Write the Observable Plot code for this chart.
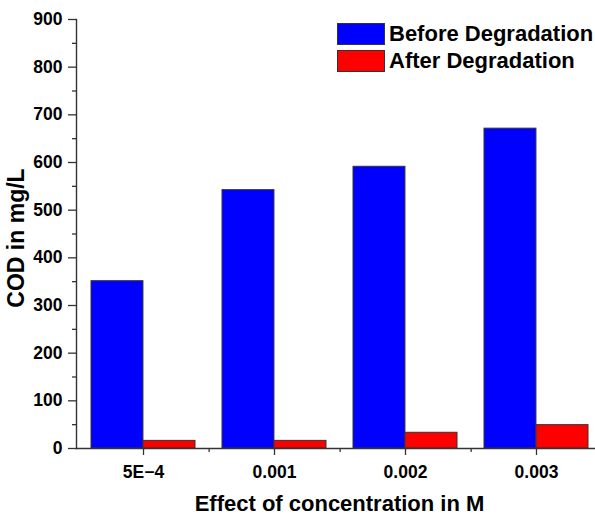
<!DOCTYPE html>
<html>
<head>
<meta charset="utf-8">
<script src="https://cdn.jsdelivr.net/npm/d3@7"></script>
<script src="https://cdn.jsdelivr.net/npm/@observablehq/plot@0.6"></script>
<style>
  html, body { margin: 0; padding: 0; background: #fff; overflow: hidden; }
  #chart { position: relative; width: 595px; height: 516px; font-family: "Liberation Sans", Arial, sans-serif; }
  .legend { position: absolute; left: 337px; top: 23px; }
  .legend .row { display: flex; align-items: center; height: 22px; margin-bottom: 5px; }
  .legend .sw { width: 46px; height: 20px; border: 1px solid #333; margin-right: 4px; }
  .legend .lab { font-weight: bold; font-size: 22px; color: #000; white-space: nowrap; line-height: 22px; }
</style>
</head>
<body>
<div id="chart"></div>
<script>
// COD before and after degradation at each concentration (mol/L)
const concentrations = ["5E\u22124", "0.001", "0.002", "0.003"];
const seriesNames = ["Before Degradation", "After Degradation"];
const seriesColors = ["#0000ff", "#ff0000"];
const beforeCOD = [351, 542, 591, 671];
const afterCOD = [16, 16, 33, 49];
const yTicks = [0, 100, 200, 300, 400, 500, 600, 700, 800, 900];
const yMinorTicks = [50, 150, 250, 350, 450, 550, 650, 750, 850];

const data = concentrations.flatMap((conc, i) => [
  {conc, series: seriesNames[0], cod: beforeCOD[i]},
  {conc, series: seriesNames[1], cod: afterCOD[i]}
]);

const width = 595, height = 516;
const marginLeft = 76, marginRight = -7, marginTop = 19, marginBottom = 68;
const paddingInner = 0.207, paddingOuter = 0.107;

// same band layout as the plot's x scale, used for bar halves and minor ticks
const xBand = d3.scaleBand(concentrations, [marginLeft, width - marginRight])
  .paddingInner(paddingInner).paddingOuter(paddingOuter);
const half = xBand.bandwidth() / 2;
const step = xBand.step();

const axisColor = "#333";
const font = {fontWeight: "bold", fill: "#000"};

const chart = Plot.plot({
  width, height, marginLeft, marginRight, marginTop, marginBottom,
  style: {fontFamily: "'Liberation Sans', Arial, sans-serif", background: "#fff", overflow: "hidden"},
  x: {type: "band", domain: concentrations, paddingInner, paddingOuter},
  y: {domain: [0, 900]},
  color: {domain: seriesNames, range: seriesColors},
  marks: [
    Plot.barY(data, {filter: d => d.series === seriesNames[0], x: "conc", y: "cod", fill: "series",
      stroke: axisColor, strokeWidth: 1, insetRight: half}),
    Plot.barY(data, {filter: d => d.series === seriesNames[1], x: "conc", y: "cod", fill: "series",
      stroke: axisColor, strokeWidth: 1, insetLeft: half}),
    Plot.ruleY([0], {stroke: axisColor, strokeWidth: 1.4}),
    Plot.frame({anchor: "left", stroke: axisColor, strokeWidth: 1.4}),
    Plot.axisY(yTicks, {tickSize: 8, tickPadding: 6, fontSize: 17.5, ...font,
      stroke: axisColor, strokeWidth: 1.3, label: null}),
    Plot.axisY(yMinorTicks, {tickSize: 4, fill: "none", stroke: axisColor, strokeWidth: 1.3, label: null}),
    Plot.axisX({tickSize: 7, tickPadding: 10, fontSize: 17.5, ...font,
      stroke: axisColor, strokeWidth: 1.3, label: null}),
    Plot.axisX({tickSize: 4, dx: step / 2, fill: "none", stroke: axisColor, strokeWidth: 1.3, label: null}),
    Plot.text(["COD in mg/L"], {text: d => d, frameAnchor: "left", textAnchor: "middle", rotate: -90,
      dx: -60, dy: 4, lineAnchor: "middle", fontSize: 23, ...font}),
    Plot.text(["Effect of concentration in M"], {text: d => d, frameAnchor: "bottom", textAnchor: "middle",
      dy: 55, lineAnchor: "middle", fontSize: 22, ...font})
  ]
});

const container = document.getElementById("chart");
container.appendChild(chart);

// series key in the upper right of the plot area
const legend = document.createElement("div");
legend.className = "legend";
seriesNames.forEach((name, i) => {
  const row = document.createElement("div");
  row.className = "row";
  const sw = document.createElement("div");
  sw.className = "sw";
  sw.style.background = seriesColors[i];
  const lab = document.createElement("span");
  lab.className = "lab";
  lab.textContent = name;
  row.append(sw, lab);
  legend.appendChild(row);
});
container.appendChild(legend);
</script>
</body>
</html>
